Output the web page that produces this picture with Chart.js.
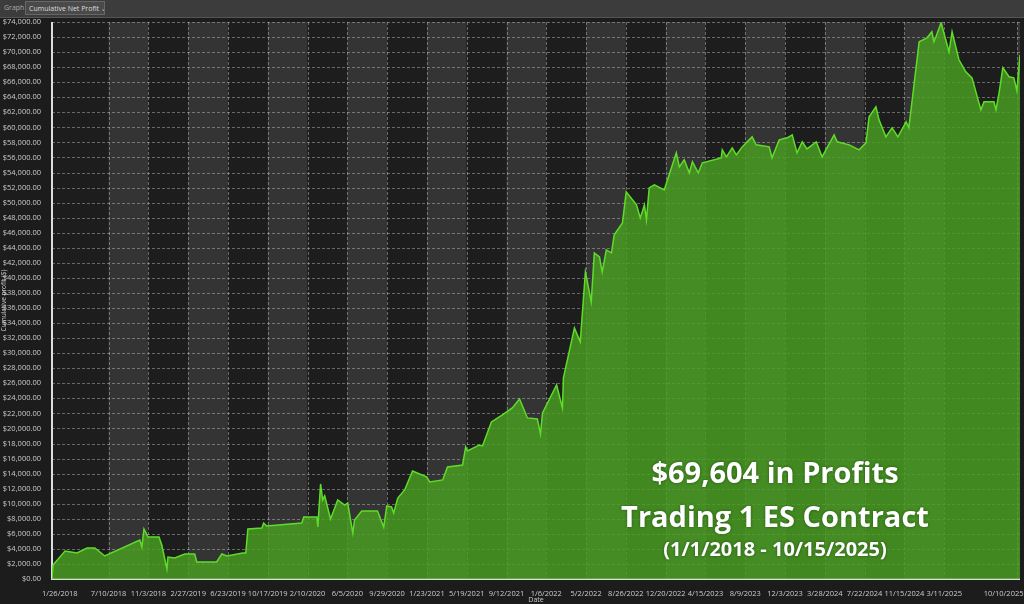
<!DOCTYPE html>
<html><head><meta charset="utf-8">
<script src="https://cdn.jsdelivr.net/npm/chart.js@4"></script>
<style>
html,body{margin:0;padding:0;background:#1c1c1c;width:1024px;height:604px;overflow:hidden;font-family:"Open Sans",sans-serif}
#bar{position:absolute;left:0;top:0;width:1024px;height:17px;background:#3c3c3c;border-bottom:1px solid #555}
#bar span{position:absolute;top:3px;font-size:7px;color:#aaa}
#sel{position:absolute;left:25px;top:1px;height:14px;width:80px;background:#4a4a4a;border:1px solid #666;color:#ddd;font-size:7px;line-height:13px;padding-left:3px;box-sizing:border-box;white-space:nowrap;overflow:hidden}
#wrap{position:absolute;left:0;top:0;width:1024px;height:604px}
.ov{position:absolute;left:575px;width:400px;text-align:center;color:#fff;font-family:"Open Sans",sans-serif;font-weight:700;text-shadow:0 0 3px rgba(0,0,0,0.4)}
</style></head><body>
<div id="wrap"><canvas id="c" width="1024" height="604"></canvas></div>
<div id="bar"><span style="left:4px">Graph</span><div id="sel">Cumulative Net Profit ⌄</div></div>
<div class="ov" style="top:452px;font-size:29px">$69,604 in Profits</div>
<div class="ov" style="top:496px;font-size:29px">Trading 1 ES Contract</div>
<div class="ov" style="top:535px;font-size:20px">(1/1/2018 - 10/15/2025)</div>
<script>
// days since 1/1/2018
const dayIndex=[25,28,63,98,127,150,179,281,287,293,305,337,345,360,363,383,412,441,447,505,520,535,581,590,596,637,642,651,753,759,797,800,808,814,820,837,858,878,887,902,907,928,974,992,1001,1015,1021,1033,1053,1076,1117,1126,1164,1178,1222,1231,1236,1271,1280,1306,1338,1367,1388,1411,1440,1449,1455,1496,1513,1516,1548,1565,1580,1597,1606,1621,1629,1641,1656,1664,1688,1699,1729,1740,1752,1758,1766,1781,1810,1845,1854,1868,1883,1892,1909,1921,1976,1979,1991,2008,2020,2037,2066,2078,2116,2124,2145,2168,2183,2197,2212,2226,2253,2270,2305,2314,2349,2378,2398,2407,2427,2436,2456,2474,2491,2515,2523,2553,2576,2590,2596,2602,2617,2640,2649,2669,2689,2707,2733,2742,2771,2777,2786,2797,2815,2829,2838,2847];
const profit=[0,1860,3720,3460,4120,4120,3060,5180,4250,6650,5580,5580,4520,1330,2920,2790,3320,3320,2260,2260,3320,3060,3460,3460,6650,6780,7440,7040,7440,8240,8240,6910,12630,10500,11030,7970,10500,9830,10100,6110,7840,9040,9040,6910,9700,9570,8770,10760,11830,14350,13560,12890,13160,14880,15150,17540,17010,17810,17680,20870,21800,22730,23920,21400,21260,19270,22060,25780,22730,26710,33360,31500,40800,36810,43330,42790,40800,43720,43330,45720,47310,51430,49700,47980,49700,47710,51960,52360,51700,56620,54750,55690,53960,55420,53960,55290,55950,57010,56080,57280,56350,57410,58740,57680,57410,55950,58340,58610,59010,56620,58080,57150,58080,56080,59010,58080,57680,57010,57940,61400,62730,61000,58740,59940,58740,60740,59940,71370,71900,72700,71370,72030,73900,70040,72700,68980,67380,66580,62330,63390,63390,62330,64590,67910,66720,66580,64860,69604];
const tickLabels=["1/26/2018","7/10/2018","11/3/2018","2/27/2019","6/23/2019","10/17/2019","2/10/2020","6/5/2020","9/29/2020","1/23/2021","5/19/2021","9/12/2021","1/6/2022","5/2/2022","8/26/2022","12/20/2022","4/15/2023","8/9/2023","12/3/2023","3/28/2024","7/22/2024","11/15/2024","3/11/2025","10/10/2025"];
const tickDays=[25,190,306,422,538,654,770,886,1002,1118,1234,1350,1466,1582,1698,1814,1930,2046,2162,2278,2394,2510,2626,2839];
const NB='\u00a0'.repeat(14);

const bands={id:'bands',beforeDatasetsDraw(ch){
  const {ctx,chartArea:a,scales:{x}}=ch;ctx.save();
  const edges=[x.getPixelForValue(x.min),...tickDays.slice(1).map(d=>x.getPixelForValue(d)),a.right];
  for(let i=0;i<edges.length-1;i++){ctx.fillStyle=i%2?'#343434':'#1d1d1d';ctx.fillRect(edges[i],a.top,edges[i+1]-edges[i],a.bottom-a.top);}
  ctx.restore();}};
const grid={id:'grid',beforeDatasetsDraw(ch){
  const {ctx,chartArea:a,scales:{x,y}}=ch;ctx.save();ctx.strokeStyle='rgba(200,200,200,0.45)';ctx.lineWidth=1;ctx.setLineDash([3,2]);
  for(let v=2000;v<=74000;v+=2000){const p=Math.round(y.getPixelForValue(v))+0.5;ctx.beginPath();ctx.moveTo(a.left,p);ctx.lineTo(a.right,p);ctx.stroke();}
  tickDays.slice(1).forEach(d=>{const p=Math.round(x.getPixelForValue(d))+0.5;ctx.beginPath();ctx.moveTo(p,a.top);ctx.lineTo(p,a.bottom);ctx.stroke();});
  ctx.setLineDash([]);ctx.strokeStyle='#ddd';ctx.lineWidth=2;ctx.beginPath();ctx.moveTo(a.left,a.top);ctx.lineTo(a.left,a.bottom);ctx.lineTo(a.right,a.bottom);ctx.stroke();
  ctx.restore();}};

new Chart(document.getElementById('c'),{
 type:'line',
 data:{datasets:[{data:dayIndex.map((d,i)=>({x:d,y:profit[i]})),borderColor:'#5fdc2a',borderWidth:1.5,backgroundColor:'rgba(72,160,32,0.82)',fill:'origin',pointRadius:0,tension:0}]},
 options:{responsive:false,animation:false,events:[],
  layout:{padding:{top:22,right:4,left:0,bottom:0}},
  plugins:{legend:{display:false},tooltip:{enabled:false}},
  scales:{
   x:{type:'linear',min:25,max:2847,grid:{display:false},border:{display:false},
      afterBuildTicks:s=>{s.ticks=tickDays.map(v=>({value:v}));},
      afterFit:s=>{s.height=25;s.paddingLeft=0;s.paddingRight=0;},
      ticks:{autoSkip:false,maxRotation:0,color:'#ccc',font:{size:7.5,family:'Open Sans'},padding:2,
        callback:(v)=>{const i=tickDays.indexOf(v);if(i===tickLabels.length-1)return tickLabels[i]+NB;if(i===0)return NB.slice(0,8)+tickLabels[i];return tickLabels[i];}},
      title:{display:true,text:'Date',color:'#ccc',font:{size:7,family:'Open Sans'},padding:{top:-3,bottom:0}}},
   y:{min:0,max:74000,grid:{display:false},border:{display:false},
      afterFit:s=>{s.width=52;},
      ticks:{stepSize:2000,autoSkip:false,color:'#ccc',font:{size:7.5,family:'Open Sans'},padding:3,callback:v=>'$'+v.toLocaleString('en-US')+'.00'},
      title:{display:true,text:'Cumulative profit ($)',color:'#ccc',font:{size:6.5,family:'Open Sans'},padding:0}}
  }},
 plugins:[bands,grid]
});
</script></body></html>
